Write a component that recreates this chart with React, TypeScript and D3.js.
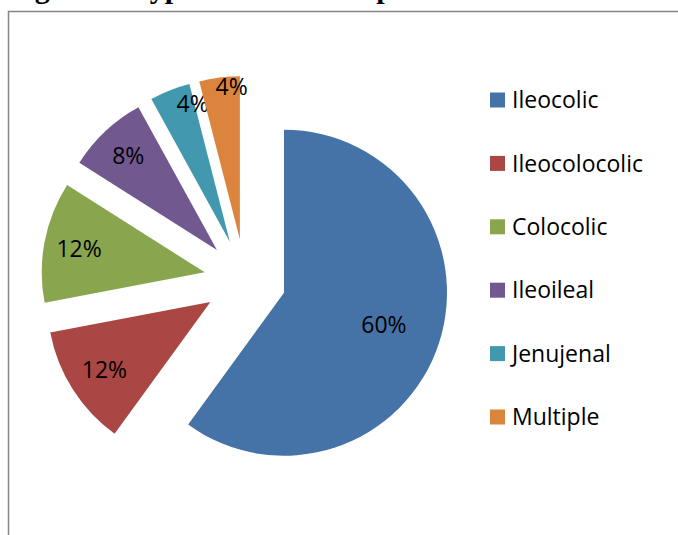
import React from "react";
import * as d3 from "d3";

// Intussusception types, share of cases (%)
const categories = ["Ileocolic", "Ileocolocolic", "Colocolic", "Ileoileal", "Jenujenal", "Multiple"];
const percents = [60, 12, 12, 8, 4, 4];
const colors = ["#4572A7", "#AA4643", "#89A54E", "#71588F", "#4198AF", "#DB843D"];
const title = "Figure 1: Types of intussusception";

const W = 678;
const H = 535;
const cx = 245;
const cy = 280;
const radius = 163;
const explode = 41;
// label placement: radial distance (fraction of radius) and sideways nudge (px)
const labelFrac = [0.645, 0.77, 0.785, 0.795, 0.87, 0.935];
const labelNudge = [0, 0, 0, 0, 16, 11];
const FONT = "'Open Sans', sans-serif";

export default function App() {
  const pie = d3
    .pie<number>()
    .sort(null)
    .startAngle(0)
    .endAngle(2 * Math.PI)
    .value((d) => d);
  const arcs = pie(percents);
  const arc = d3.arc<d3.PieArcDatum<number>>().innerRadius(0).outerRadius(radius);

  const legendY = d3
    .scalePoint<string>()
    .domain(categories)
    .range([100, 417]);

  return (
    <svg
      width={W}
      height={H}
      style={{ position: "absolute", left: 0, top: 0, background: "#fff" }}
    >
      <text
        x={8}
        y={-2}
        fontFamily="'Liberation Serif', 'Times New Roman', serif"
        fontWeight="bold"
        fontSize={30}
        fill="#000"
      >
        {title}
      </text>
      <path d={`M8.5,${H} V11.5 H${W}`} fill="none" stroke="#878787" strokeWidth={1.5} />

      <g transform={`translate(${cx},${cy})`}>
        {arcs.map((a, i) => {
          const mid = (a.startAngle + a.endAngle) / 2;
          const ux = Math.sin(mid);
          const uy = -Math.cos(mid);
          const lr = radius * labelFrac[i];
          const lx = ux * lr - uy * labelNudge[i];
          const ly = uy * lr + ux * labelNudge[i];
          return (
            <g key={categories[i]} transform={`translate(${ux * explode},${uy * explode})`}>
              <path d={arc(a) ?? ""} fill={colors[i]} />
              <text
                x={lx}
                y={ly}
                dy="0.36em"
                textAnchor="middle"
                fontFamily={FONT}
                fontSize={23}
                fill="#000"
              >
                {`${percents[i]}%`}
              </text>
            </g>
          );
        })}
      </g>

      <g>
        {categories.map((c, i) => {
          const y = legendY(c) ?? 0;
          return (
            <g key={c}>
              <rect x={490} y={y - 7.5} width={15} height={15} fill={colors[i]} />
              <text
                x={512}
                y={y}
                dy="0.36em"
                fontFamily={FONT}
                fontSize={23}
                fill="#000"
              >
                {c}
              </text>
            </g>
          );
        })}
      </g>
    </svg>
  );
}
